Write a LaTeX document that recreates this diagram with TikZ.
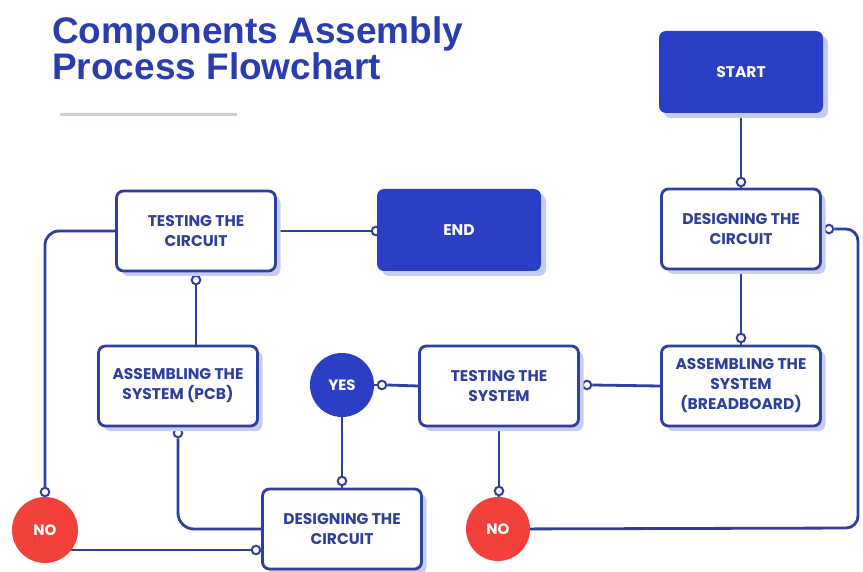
\documentclass[tikz,border=0pt]{standalone}
\usepackage{fontspec}
\setmainfont{Poppins}
\newfontfamily\titlefont{Liberation Sans}
\usetikzlibrary{shadows}
\definecolor{navy}{HTML}{2E3F9C}
\definecolor{royal}{HTML}{2A3EC6}
\definecolor{shadowc}{HTML}{C4CEF0}
\definecolor{nored}{HTML}{F2403A}
\definecolor{titleblue}{HTML}{2A3DB0}
\definecolor{rulec}{HTML}{C6D0E5}
\pgfdeclarelayer{bg}
\pgfsetlayers{bg,main}
\tikzset{
  boxbase/.style={rounded corners=7pt, minimum width=159pt, minimum height=80pt, align=center,
    font=\bfseries\fontsize{15.5}{20}\selectfont,
    general shadow={fill=shadowc, shadow xshift=5pt, shadow yshift=-5pt}},
  whitebox/.style={boxbase, draw=navy, line width=2.8pt, fill=white, text=navy},
  bluebox/.style={boxbase, fill=royal, text=white, minimum width=164pt, minimum height=82pt},
  decision/.style={circle, minimum size=64pt, inner sep=0pt, text=white, font=\bfseries\fontsize{15}{16}\selectfont},
  yesnode/.style={decision, fill=royal},
  nonode/.style={decision, fill=nored},
  port/.style={circle, draw=navy, fill=white, line width=2pt, minimum size=8.5pt, inner sep=0pt},
  conn/.style={draw=navy, line width=2.8pt}
}
\begin{document}
\begin{tikzpicture}[x=1pt,y=-1pt]
\useasboundingbox (0,0) rectangle (863,572);
\begin{pgfonlayer}{bg}
\fill[white] (0,0) rectangle (863,572);
\end{pgfonlayer}
% title
\node[anchor=base west, inner sep=0pt, text=titleblue, font=\titlefont\bfseries\fontsize{37}{40}\selectfont] (t1) at (52,44) {Components Assembly};
\node[anchor=base west, inner sep=0pt, text=titleblue, font=\titlefont\bfseries\fontsize{37}{40}\selectfont] (t2) at (52,80) {Process Flowchart};
\draw[rulec, line width=3pt] (60,115) -- (237,115);
% ports
\node[port] (p1) at (741,182) {};
\node[port] (p2) at (829,229) {};
\node[port] (p3) at (741,338) {};
\node[port] (p4) at (587,385) {};
\node[port] (p5) at (382,385) {};
\node[port] (p6) at (342,481) {};
\node[port] (p7) at (499,491) {};
\node[port] (p8) at (178,433) {};
\node[port] (p9) at (196,280) {};
\node[port] (p10) at (376,231) {};
\node[port] (p11) at (45,492) {};
\node[port] (p12) at (256,550) {};
% boxes
\node[bluebox] (start) at (741,72) {START};
\node[whitebox] (d1) at (741,229) {DESIGNING THE\\CIRCUIT};
\node[whitebox] (ab) at (741,386) {ASSEMBLING THE\\SYSTEM\\(BREADBOARD)};
\node[whitebox] (ts) at (499,386) {TESTING THE\\SYSTEM};
\node[yesnode] (yes) at (342,385) {YES};
\node[nonode] (no2) at (498,529) {NO};
\node[whitebox] (d2) at (342,529) {DESIGNING THE\\CIRCUIT};
\node[whitebox] (pcb) at (178,386) {ASSEMBLING THE\\SYSTEM (PCB)};
\node[whitebox] (tc) at (196,231) {TESTING THE\\CIRCUIT};
\node[bluebox] (endn) at (459,230) {END};
\node[nonode, minimum size=66pt] (no1) at (45,530) {NO};
\coordinate (rc1) at (858,528);
\begin{pgfonlayer}{bg}
\draw[conn] (start.south) -- (p1.north);
\draw[conn] (p1.south) -- (d1.north);
\draw[conn, rounded corners=12pt] (p2.east) -| (rc1) -- (no2.center);
\draw[conn] (d1.south) -- (p3.north);
\draw[conn] (p3.south) -- (ab.north);
\draw[conn] (ab.west) -- (p4.east);
\draw[conn] (p4.west) -- (ts.east);
\draw[conn] (ts.west) -- (p5.east);
\draw[conn] (p5.west) -- (yes.center);
\draw[conn] (yes.center) -- (p6.north);
\draw[conn] (p6.south) -- (d2.north);
\draw[conn] (ts.south) -- (p7.north);
\draw[conn] (p7.south) -- (no2.center);
\draw[conn, rounded corners=16pt] (p8.south) |- (d2.west);
\draw[conn] (tc.south -| p9) -- (p9.north);
\draw[conn] (p9.south) -- (p9 |- pcb.north);
\draw[conn] (tc.east) -- (p10.center);
\draw[conn, rounded corners=14pt] (tc.west) -| (p11.north);
\draw[conn] (p11.south) -- (no1.center);
\draw[conn] (no1.center |- p12) -- (p12.west);
\draw[conn] (p12.east) -- (d2.west |- p12);
\draw[conn] (d1.east) -- (p2.west);
\draw[conn] (pcb.south) -- (p8.north);
\end{pgfonlayer}
\end{tikzpicture}
\end{document}
